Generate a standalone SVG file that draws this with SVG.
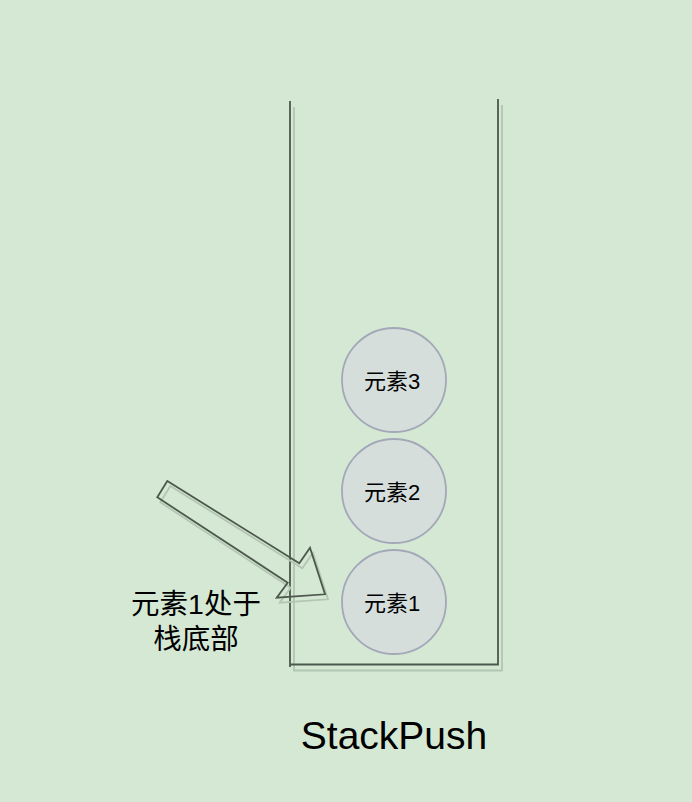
<svg xmlns="http://www.w3.org/2000/svg" width="692" height="802" viewBox="0 0 692 802">
<style>
.bg{fill:#d5e8d4}
.stack{fill:none;stroke:#4d584d;stroke-width:1.8}
.shadow{fill:none;stroke:#b3c6b2;stroke-width:1.8}
.el{fill:#d5dedb;stroke:#a3a8b8;stroke-width:1.8}
.lbl{font-family:"Liberation Sans","Noto Sans CJK SC",sans-serif;fill:#000;text-anchor:middle}
</style>
<rect class="bg" x="0" y="0" width="692" height="802"/>
<g id="stack">
<path class="shadow" d="M294,107 V670.5 H502 V105"/>
<path class="stack" d="M290,101 V667 M290,664.5 H498 V99"/>
</g>
<g id="element3">
<circle class="el" cx="394" cy="380" r="52"/>
<text class="lbl" x="392" y="389" font-size="22">元素3</text>
</g>
<g id="element2">
<circle class="el" cx="394" cy="491" r="52"/>
<text class="lbl" x="392" y="500" font-size="22">元素2</text>
</g>
<g id="element1">
<circle class="el" cx="394" cy="602" r="52"/>
<text class="lbl" x="392" y="611" font-size="22">元素1</text>
</g>
<g id="connectors">
<polygon class="shadow" points="170.3,486 160.3,502.3 290.7,587.7 279.7,602.7 328,599.3 313,552.7 302.3,568.3"/>
<polygon class="stack" points="167.3,481 157.3,497.3 287.7,582.7 276.7,597.7 325,594.3 310,547.7 299.3,563.3"/>
</g>
<g id="label">
<text class="lbl" x="196" y="614" font-size="28.5">元素1处于</text>
<text class="lbl" x="196" y="649" font-size="28.5">栈底部</text>
</g>
<g id="title">
<text class="lbl" x="394" y="749" font-size="39">StackPush</text>
</g>
</svg>
